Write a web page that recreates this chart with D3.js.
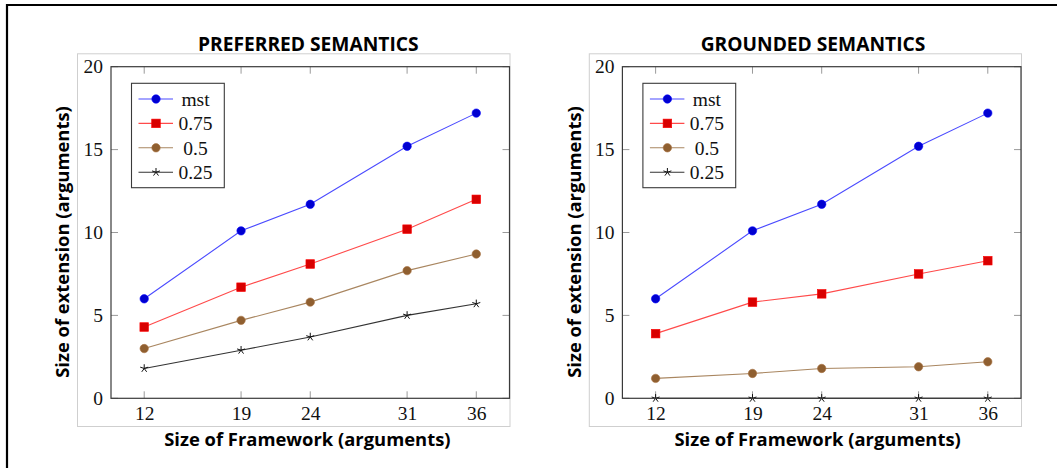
<!DOCTYPE html>
<html>
<head>
<meta charset="utf-8">
<script src="https://cdn.jsdelivr.net/npm/d3@7"></script>
<style>
  html, body { margin: 0; padding: 0; background: #fff; }
  svg { display: block; }
</style>
</head>
<body>
<svg id="chart" width="1057" height="468"></svg>
<script>
// ---------- data ----------
const frameworkSizes = [12, 19, 24, 31, 36];
const yTickValues = [0, 5, 10, 15, 20];
const seriesNames = ["mst", "0.75", "0.5", "0.25"];

const preferredMst = [6, 10.1, 11.7, 15.2, 17.2];
const preferred075 = [4.3, 6.7, 8.1, 10.2, 12];
const preferred05  = [3, 4.7, 5.8, 7.7, 8.7];
const preferred025 = [1.8, 2.9, 3.7, 5.0, 5.7];

const groundedMst = [6, 10.1, 11.7, 15.2, 17.2];
const grounded075 = [3.9, 5.8, 6.3, 7.5, 8.3];
const grounded05  = [1.2, 1.5, 1.8, 1.9, 2.2];
const grounded025 = [0, 0, 0, 0, 0];

const chartTitles = ["PREFERRED SEMANTICS", "GROUNDED SEMANTICS"];
const xAxisTitle = "Size of Framework (arguments)";
const yAxisTitle = "Size of extension (arguments)";

// ---------- styles ----------
const styles = [
  { line: "#4a4aff", fill: "#0000d0", stroke: "#0000ff", mark: "circle" },
  { line: "#ff4a4a", fill: "#d80000", stroke: "#ff0000", mark: "square" },
  { line: "#a98660", fill: "#8f5f30", stroke: "#a87040", mark: "circle" },
  { line: "#333333", fill: "none",    stroke: "#111111", mark: "star" }
];

const svg = d3.select("#chart");

// outer black frame (top and left)
svg.append("path")
  .attr("d", "M7,468 L7,5 L1057,5")
  .attr("fill", "none").attr("stroke", "#000").attr("stroke-width", 2.2);

const serifFont = "'Liberation Serif', 'DejaVu Serif', serif";
const sansFont = "'Open Sans', 'Noto Sans', sans-serif";

function drawMarker(g, type, st) {
  if (type === "circle") {
    g.append("circle").attr("r", 4.2).attr("fill", st.fill).attr("stroke", st.stroke).attr("stroke-width", 0.6);
  } else if (type === "square") {
    g.append("rect").attr("x", -4.3).attr("y", -4.3).attr("width", 8.6).attr("height", 8.6)
      .attr("fill", st.fill).attr("stroke", st.stroke).attr("stroke-width", 0.6);
  } else {
    let d = "";
    for (let k = 0; k < 5; k++) {
      const a = -Math.PI / 2 + k * 2 * Math.PI / 5;
      d += `M0,0L${(4.2 * Math.cos(a)).toFixed(2)},${(4.2 * Math.sin(a)).toFixed(2)}`;
    }
    g.append("path").attr("d", d).attr("stroke", st.stroke).attr("stroke-width", 1).attr("fill", "none");
  }
}

function drawChart(cfg) {
  const g = svg.append("g");
  const x = d3.scaleLinear().domain([9.6, 38.4]).range([cfg.left, cfg.right]);
  const y = d3.scaleLinear().domain([0, 20]).range([cfg.bottom, cfg.top]);

  // light gray image box
  g.append("rect")
    .attr("x", cfg.boxLeft + 0.5).attr("y", cfg.boxTop + 0.5)
    .attr("width", cfg.right - cfg.boxLeft).attr("height", cfg.boxBottom - cfg.boxTop)
    .attr("fill", "none").attr("stroke", "#cfcfcf").attr("stroke-width", 1);

  // title
  g.append("text").attr("x", cfg.titleX).attr("y", 51)
    .attr("text-anchor", "middle").attr("font-family", sansFont)
    .attr("font-weight", "bold").attr("font-size", 19.2).attr("fill", "#000")
    .text(cfg.title);

  // inner ticks (all four sides)
  const tickLen = 7;
  const ticks = g.append("g").attr("stroke", "#9a9a9a").attr("stroke-width", 1);
  frameworkSizes.forEach(v => {
    ticks.append("line").attr("x1", x(v)).attr("x2", x(v)).attr("y1", cfg.bottom).attr("y2", cfg.bottom - tickLen);
    ticks.append("line").attr("x1", x(v)).attr("x2", x(v)).attr("y1", cfg.top).attr("y2", cfg.top + tickLen);
  });
  yTickValues.forEach(v => {
    ticks.append("line").attr("x1", cfg.left).attr("x2", cfg.left + tickLen).attr("y1", y(v)).attr("y2", y(v));
    ticks.append("line").attr("x1", cfg.right).attr("x2", cfg.right - tickLen).attr("y1", y(v)).attr("y2", y(v));
  });

  // axes via d3 (labels only, lines hidden)
  const xAxis = g.append("g").attr("transform", `translate(0,${cfg.bottom})`)
    .call(d3.axisBottom(x).tickValues(frameworkSizes).tickSize(0).tickPadding(8).tickFormat(d3.format("d")));
  xAxis.select(".domain").remove();
  xAxis.selectAll("text").attr("font-family", serifFont).attr("font-size", 19.5).attr("fill", "#111");

  const yAxis = g.append("g").attr("transform", `translate(${cfg.left},0)`)
    .call(d3.axisLeft(y).tickValues(yTickValues).tickSize(0).tickPadding(8).tickFormat(d3.format("d")));
  yAxis.select(".domain").remove();
  yAxis.selectAll("text").attr("font-family", serifFont).attr("font-size", 19.5).attr("fill", "#111");

  // axis titles
  g.append("text").attr("x", cfg.xTitleX).attr("y", 446)
    .attr("text-anchor", "middle").attr("font-family", sansFont)
    .attr("font-weight", "bold").attr("font-size", 18.4).attr("fill", "#000")
    .text(xAxisTitle);
  g.append("text")
    .attr("transform", `translate(${cfg.yTitleX},242) rotate(-90)`)
    .attr("text-anchor", "middle").attr("font-family", sansFont)
    .attr("font-weight", "bold").attr("font-size", 18.4).attr("fill", "#000")
    .text(yAxisTitle);

  // series
  const line = d3.line().x((d, i) => x(frameworkSizes[i])).y(d => y(d));
  cfg.series.forEach((vals, si) => {
    const st = styles[si];
    g.append("path").datum(vals).attr("d", line)
      .attr("fill", "none").attr("stroke", st.line).attr("stroke-width", 1.1);
  });
  cfg.series.forEach((vals, si) => {
    const st = styles[si];
    vals.forEach((v, i) => {
      const mg = g.append("g").attr("transform", `translate(${x(frameworkSizes[i])},${y(v)})`);
      drawMarker(mg, st.mark, st);
    });
  });

  // plot frame
  g.append("rect")
    .attr("x", cfg.left).attr("y", cfg.top)
    .attr("width", cfg.right - cfg.left).attr("height", cfg.bottom - cfg.top)
    .attr("fill", "none").attr("stroke", "#3a3a3a").attr("stroke-width", 1.2);

  // legend
  const lg = g.append("g");
  const lx0 = cfg.left + 20.5, lx1 = cfg.left + 113.3;
  lg.append("rect").attr("x", lx0).attr("y", 83.3).attr("width", lx1 - lx0).attr("height", 104.4)
    .attr("fill", "#fff").attr("stroke", "#3a3a3a").attr("stroke-width", 1.1);
  seriesNames.forEach((name, si) => {
    const st = styles[si];
    const ry = 99 + si * 24.4;
    lg.append("line").attr("x1", cfg.left + 27.5).attr("x2", cfg.left + 62)
      .attr("y1", ry).attr("y2", ry).attr("stroke", st.line).attr("stroke-width", 1.1);
    const mg = lg.append("g").attr("transform", `translate(${cfg.left + 45},${ry})`);
    drawMarker(mg, st.mark, st);
    lg.append("text").attr("x", cfg.left + 84.5).attr("y", ry)
      .attr("dy", "0.35em").attr("text-anchor", "middle")
      .attr("font-family", serifFont).attr("font-size", 19.5).attr("fill", "#111")
      .text(name);
  });
}

drawChart({
  left: 111, right: 509.5, top: 66.7, bottom: 398.3,
  boxLeft: 77, boxTop: 53.3, boxBottom: 426,
  titleX: 308.3, xTitleX: 307.4, yTitleX: 69,
  title: chartTitles[0],
  series: [preferredMst, preferred075, preferred05, preferred025]
});
drawChart({
  left: 622.4, right: 1021, top: 66.7, bottom: 398.3,
  boxLeft: 588.8, boxTop: 53.3, boxBottom: 426,
  titleX: 813, xTitleX: 817.6, yTitleX: 581,
  title: chartTitles[1],
  series: [groundedMst, grounded075, grounded05, grounded025]
});
</script>
</body>
</html>
